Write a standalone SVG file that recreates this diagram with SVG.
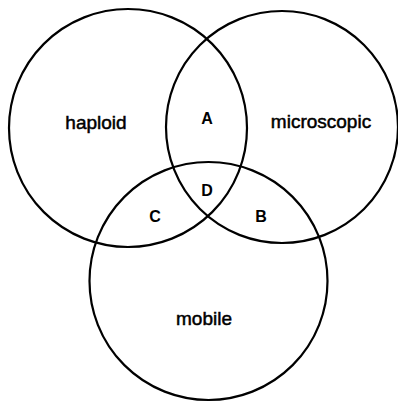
<svg xmlns="http://www.w3.org/2000/svg" width="398" height="403" viewBox="0 0 398 403">
<style>
.set{fill:none;stroke:#000;stroke-width:2.2}
.lbl{font-family:"Liberation Sans",Arial,sans-serif;font-size:19px;fill:#000;stroke:#000;stroke-width:0.5;text-anchor:middle}
.reg{font-family:"Liberation Sans",Arial,sans-serif;font-size:16px;font-weight:bold;fill:#000;text-anchor:middle}
</style>
<rect width="398" height="403" fill="#fff"/>
<g id="haploid">
<circle class="set" cx="128" cy="128" r="119"/>
<text class="lbl" x="96" y="129">haploid</text>
</g>
<g id="microscopic">
<circle class="set" cx="282" cy="127" r="116"/>
<text class="lbl" x="321" y="128">microscopic</text>
</g>
<g id="mobile">
<circle class="set" cx="208.5" cy="281" r="119"/>
<text class="lbl" x="204" y="325">mobile</text>
</g>
<g id="regions">
<text class="reg" x="207" y="124">A</text>
<text class="reg" x="207" y="196">D</text>
<text class="reg" x="155" y="222">C</text>
<text class="reg" x="261" y="222">B</text>
</g>
</svg>
